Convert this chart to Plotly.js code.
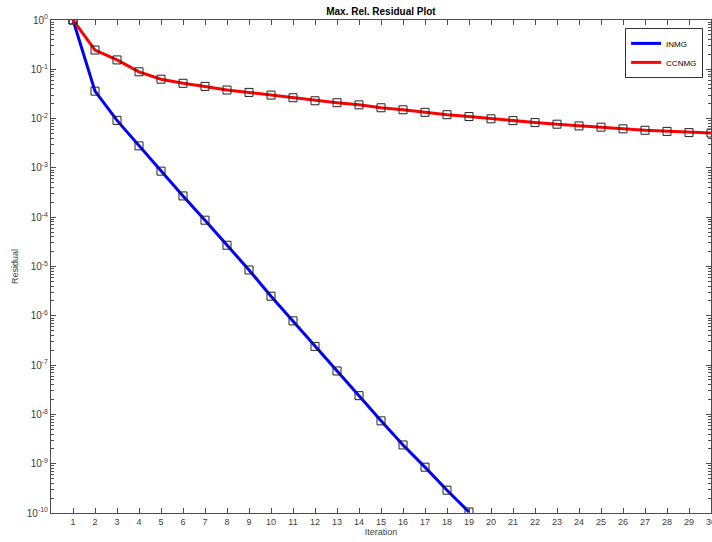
<!DOCTYPE html>
<html>
<head>
<meta charset="utf-8">
<script src="https://cdn.plot.ly/plotly-3.0.1.min.js"></script>
<style>html,body{margin:0;padding:0;background:#fff;}#chart{width:712px;height:542px;}</style>
</head>
<body>
<div id="chart"></div>
<script>
var iterINMG = [1,2,3,4,5,6,7,8,9,10,11,12,13,14,15,16,17,18,19];
var resINMG = [1, 0.036, 0.0092, 2.8e-3, 8.6e-4, 2.7e-4, 8.7e-5, 2.7e-5, 8.5e-6, 2.5e-6, 7.9e-7, 2.4e-7, 7.6e-8, 2.4e-8, 7.4e-9, 2.4e-9, 8.5e-10, 2.9e-10, 1.05e-10];
var iterCCNMG = [1,2,3,4,5,6,7,8,9,10,11,12,13,14,15,16,17,18,19,20,21,22,23,24,25,26,27,28,29,30];
var resCCNMG = [1, 0.246, 0.155, 0.089, 0.063, 0.052, 0.045, 0.038, 0.034, 0.030, 0.0265, 0.023, 0.021, 0.019, 0.0166, 0.0151, 0.0134, 0.012, 0.011, 0.0099, 0.0091, 0.0083, 0.0077, 0.0071, 0.0067, 0.0062, 0.0058, 0.0055, 0.0052, 0.0051];
var xTicks = [1,2,3,4,5,6,7,8,9,10,11,12,13,14,15,16,17,18,19,20,21,22,23,24,25,26,27,28,29,30];
var yExponents = [0,-1,-2,-3,-4,-5,-6,-7,-8,-9,-10];

var yTickVals = yExponents.map(function(e){return Math.pow(10,e);});
var yTickText = yExponents.map(function(e){return '10<sup>' + e + '</sup>';});
var yMinor = [];
yExponents.forEach(function(e){ if (e > -10) { for (var m=2;m<=9;m++) yMinor.push(m*Math.pow(10,e-1)); } });

var axisColor = '#4d4d4d';
var traces = [
  {x: iterINMG, y: resINMG, mode:'lines', name:'INMG', line:{color:'#0000ff', width:3}, hoverinfo:'skip'},
  {x: iterCCNMG, y: resCCNMG, mode:'lines', name:'CCNMG', line:{color:'#ff0000', width:3}, hoverinfo:'skip'},
  {x: iterINMG, y: resINMG, mode:'markers', showlegend:false, marker:{symbol:'square-open', size:8, color:'#222', line:{width:1}}, hoverinfo:'skip'},
  {x: iterCCNMG, y: resCCNMG, mode:'markers', showlegend:false, marker:{symbol:'square-open', size:8, color:'#222', line:{width:1}}, hoverinfo:'skip'}
];
var layout = {
  width:712, height:542,
  margin:{l:51, r:1, t:20, b:29, pad:0},
  paper_bgcolor:'#fff', plot_bgcolor:'#fff',
  font:{family:'Arial, Liberation Sans, sans-serif', size:9, color:'#404040'},
  title:{text:'<b>Max. Rel. Residual Plot</b>', font:{size:10, color:'#000'}, x:0.535, xanchor:'center', y:0.985, yanchor:'top'},
  showlegend:true,
  legend:{x:0.988, y:0.984, xanchor:'right', yanchor:'top', bgcolor:'#fff', bordercolor:'#333', borderwidth:1, font:{size:8, color:'#000'}, tracegroupgap:0, itemwidth:30},
  xaxis:{range:[0,30], tickvals:xTicks, ticktext:xTicks.map(String), ticks:'inside', ticklen:5, tickcolor:axisColor, showline:true, linecolor:axisColor, linewidth:1, mirror:'ticks', showgrid:false, zeroline:false, ticklabeloverflow:'allow',
    title:{text:'Iteration', font:{size:9, color:'#404040'}, standoff:2}, tickfont:{size:9, color:'#404040'}},
  yaxis:{type:'log', range:[-10,0], tickvals:yTickVals, ticktext:yTickText, ticks:'inside', ticklen:5, tickcolor:axisColor, showline:true, linecolor:axisColor, linewidth:1, mirror:'ticks', showgrid:false, zeroline:false,
    minor:{tickmode:'array', tickvals:yMinor, ticks:'inside', ticklen:3, tickcolor:axisColor, showgrid:false},
    title:{text:'Residual', font:{size:9, color:'#404040'}, standoff:6}, tickfont:{size:10, color:'#404040'}}
};
Plotly.newPlot('chart', traces, layout, {staticPlot:true, displayModeBar:false});
</script>
</body>
</html>
